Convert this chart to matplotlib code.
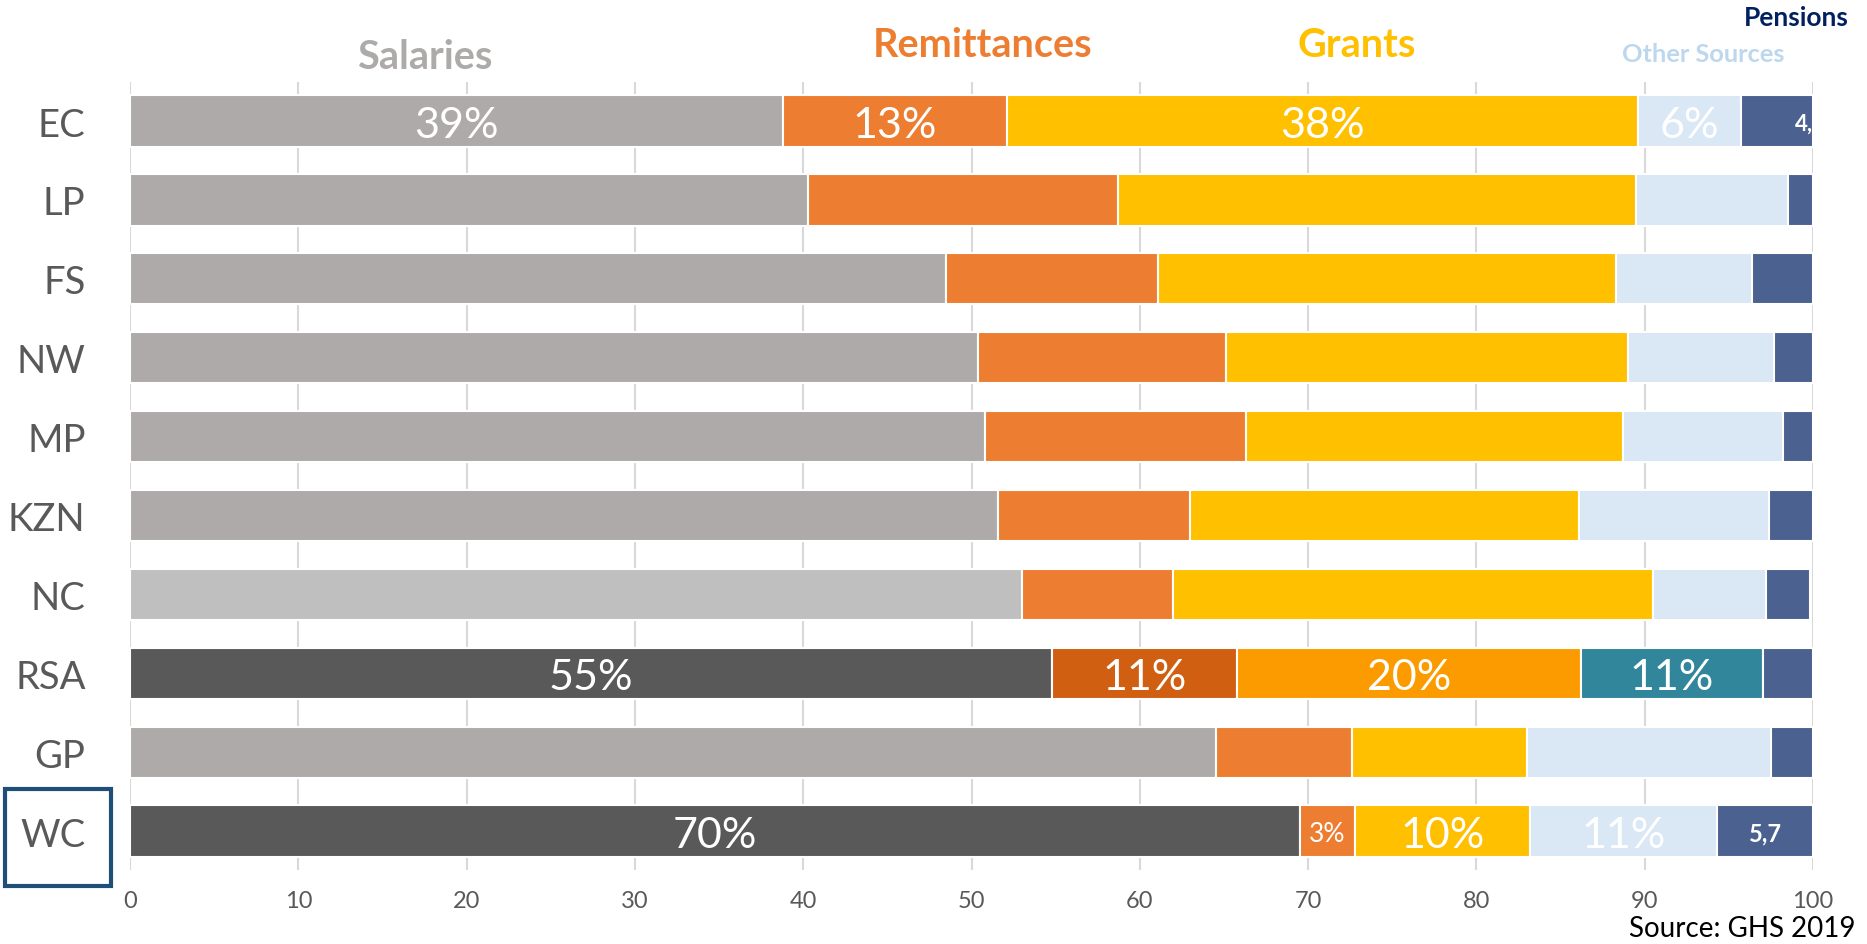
import matplotlib.pyplot as plt
from matplotlib.patches import Rectangle

plt.rcParams['font.family'] = ['Lato', 'DejaVu Sans']

# income sources by province (% of households)
provinces = ["EC", "LP", "FS", "NW", "MP", "KZN", "NC", "RSA", "GP", "WC"]
salaries = [38.8, 40.3, 48.5, 50.4, 50.8, 51.6, 53.0, 54.8, 64.5, 69.5]
remittances = [13.3, 18.4, 12.6, 14.7, 15.5, 11.4, 9.0, 11.0, 8.1, 3.3]
grants = [37.5, 30.8, 27.2, 23.9, 22.4, 23.1, 28.5, 20.4, 10.4, 10.4]
other = [6.1, 9.0, 8.1, 8.7, 9.5, 11.3, 6.7, 10.8, 14.5, 11.1]
pensions = [4.3, 1.5, 3.6, 2.3, 1.8, 2.6, 2.6, 3.0, 2.5, 5.7]

series_names = ["Salaries", "Remittances", "Grants", "Other Sources", "Pensions"]
base_colors = ["#AEAAAA", "#ED7D31", "#FFC000", "#DAE7F4", "#4B6190"]
row_colors = {
    "NC": ["#BFBFBF", "#ED7D31", "#FFC000", "#DAE7F4", "#4B6190"],
    "RSA": ["#595959", "#D05F12", "#FB9B00", "#32869C", "#4B6190"],
    "WC": ["#595959", "#ED7D31", "#FFC000", "#DAE7F4", "#4B6190"],
}
row_labels = {
    "EC": ["39%", "13%", "38%", "6%", "4,3"],
    "RSA": ["55%", "11%", "20%", "11%", None],
    "WC": ["70%", "3%", "10%", "11%", "5,7"],
}

fig = plt.figure(figsize=(18.67, 9.45), dpi=100)
ax = fig.add_axes([130 / 1867, 0.0778, (1813 - 130) / 1867, 0.9126 - 0.0778])

data = [salaries, remittances, grants, other, pensions]
for i, p in enumerate(provinces):
    cols = row_colors.get(p, base_colors)
    left = 0
    for k in range(5):
        w = data[k][i]
        ax.barh(i, w, left=left, height=0.65, color=cols[k], edgecolor='white',
                linewidth=1.5, zorder=3)
        labs = row_labels.get(p)
        if labs and labs[k]:
            if k == 4 and p == "EC":
                ax.text(left + 3.2, i, labs[k], ha='left', va='center_baseline', color='white',
                        fontsize=16, fontweight='bold', zorder=4, clip_on=True)
            elif k == 4:
                ax.text(left + w / 2, i, labs[k], ha='center', va='center_baseline', color='white',
                        fontsize=17, fontweight='bold', zorder=4)
            elif w < 5:
                ax.text(left + w / 2, i, labs[k], ha='center', va='center_baseline', color='white',
                        fontsize=19, zorder=4)
            else:
                ax.text(left + w / 2, i, labs[k], ha='center', va='center_baseline', color='white',
                        fontsize=31, zorder=4)
        left += w

ax.set_xlim(0, 100)
ax.set_ylim(9.5, -0.5)
ax.set_yticks(range(len(provinces)))
ax.set_yticklabels(provinces, fontsize=27.5, color='#595959')
ax.set_xticks(range(0, 101, 10))
ax.tick_params(axis='x', labelsize=17, colors='#595959', length=0, pad=14)
ax.tick_params(axis='y', length=0, pad=32)
ax.grid(axis='x', color='#D9D9D9', linewidth=1.5, zorder=0)
for s in ax.spines.values():
    s.set_visible(False)

# header labels in place of a legend
fig.text(425 / 1867, 1 - 69 / 945, "Salaries", color="#AEAAAA", fontsize=28.5,
         fontweight='bold', ha='center', va='baseline')
fig.text(983 / 1867, 1 - 57 / 945, "Remittances", color="#ED7D31", fontsize=28.5,
         fontweight='bold', ha='center', va='baseline')
fig.text(1357 / 1867, 1 - 57 / 945, "Grants", color="#FFC000", fontsize=28.5,
         fontweight='bold', ha='center', va='baseline')
fig.text(1703 / 1867, 1 - 62 / 945, "Other Sources", color="#BDD7EE", fontsize=18.3,
         fontweight='bold', ha='center', va='baseline')
fig.text(1849 / 1867, 1 - 26 / 945, "Pensions", color="#002060", fontsize=19,
         fontweight='bold', ha='right', va='baseline')

fig.text(1855 / 1867, 1 - 942 / 945, "Source: GHS 2019", color='black', fontsize=20,
         ha='right', va='bottom')

# box around WC label
fig.patches.append(Rectangle((5 / 1867, 1 - 887 / 945), 106 / 1867, 97 / 945,
                             transform=fig.transFigure, fill=False,
                             edgecolor='#1F4E79', linewidth=3))

fig.savefig('out.png', dpi=100)
